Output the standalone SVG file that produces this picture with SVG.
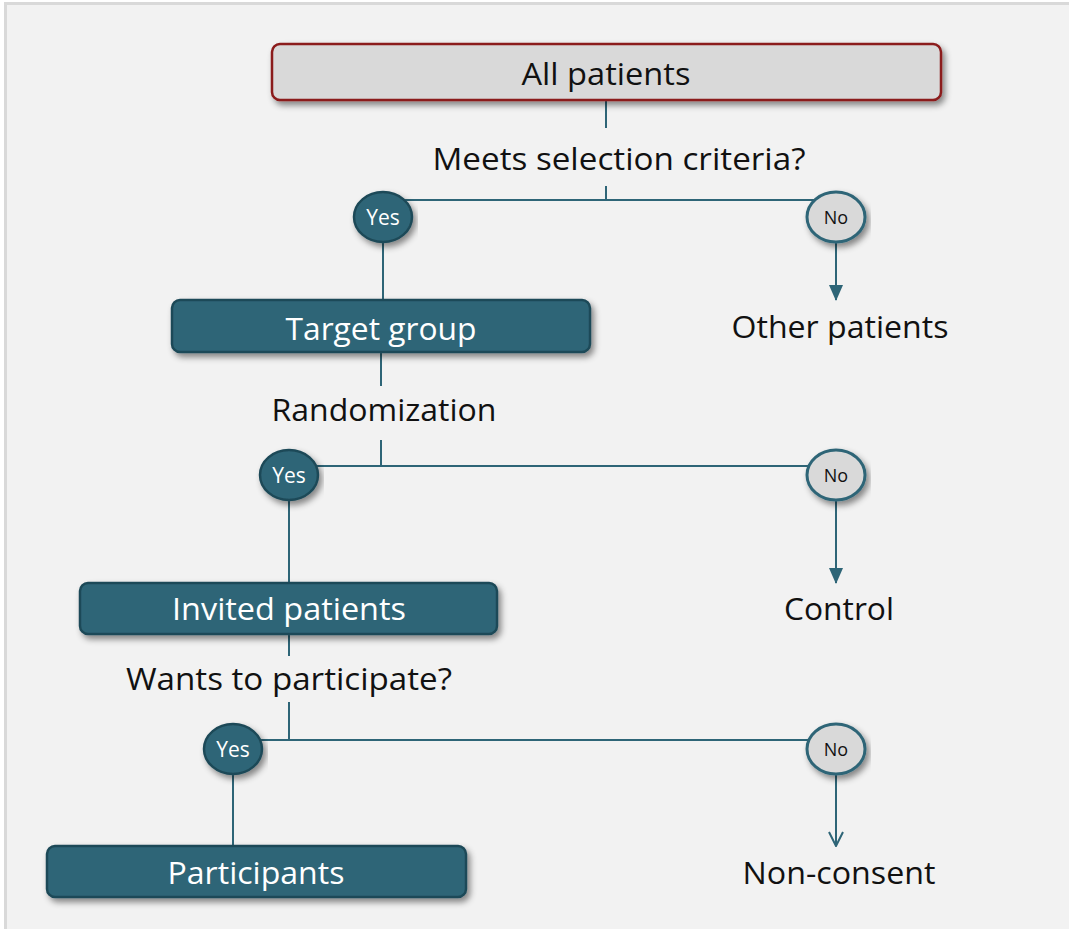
<svg xmlns="http://www.w3.org/2000/svg" width="1069" height="929" viewBox="0 0 1069 929">
  <defs>
    <filter id="shadow" x="-10%" y="-30%" width="120%" height="180%">
      <feDropShadow dx="3" dy="4" stdDeviation="3" flood-color="#000" flood-opacity="0.45"/>
    </filter>
    <marker id="arrowFilled" viewBox="0 0 16 14" refX="15" refY="7" markerWidth="16" markerHeight="14" markerUnits="userSpaceOnUse" orient="auto">
      <path d="M0,0 L16,7 L0,14 z" fill="#2e6577"/>
    </marker>
    <marker id="arrowOpen" viewBox="0 0 16 16" refX="15" refY="8" markerWidth="16" markerHeight="16" markerUnits="userSpaceOnUse" orient="auto">
      <path d="M1,1 L15,8 L1,15" fill="none" stroke="#2e6577" stroke-width="2"/>
    </marker>
  </defs>
  <style>
    .bg { fill: #f2f2f2; stroke: #d9d9d9; stroke-width: 3; }
    .start { fill: #d9d9d9; stroke: #8b1a1a; stroke-width: 2.5; }
    .box { fill: #2e6577; stroke: #1f4a58; stroke-width: 2.5; }
    .yes { fill: #2e6577; stroke: #1f4a58; stroke-width: 2.5; }
    .no { fill: #d9d9d9; stroke: #2e6577; stroke-width: 3; }
    .link { fill: none; stroke: #2e6577; stroke-width: 2; }
    text { font-family: "Open Sans", "Noto Sans", sans-serif; text-anchor: middle; }
    .lbl { font-size: 31px; fill: #111; }
    .boxlbl { font-size: 31px; fill: #fff; }
    .yeslbl { font-size: 21px; fill: #fff; }
    .nolbl { font-size: 18px; fill: #111; }
  </style>

  <rect x="0" y="0" width="1069" height="929" fill="#ffffff"/>
  <rect class="bg" x="5.5" y="3.5" width="1100" height="1000"/>

  <!-- connectors -->
  <g id="connectors">
    <line class="link" x1="606" y1="100" x2="606" y2="128"/>
    <line class="link" x1="606" y1="186" x2="606" y2="200"/>
    <line class="link" x1="383" y1="200" x2="836" y2="200"/>
    <line class="link" x1="383" y1="242" x2="383" y2="300"/>
    <line class="link" x1="836" y1="242" x2="836" y2="300" marker-end="url(#arrowFilled)"/>

    <line class="link" x1="381" y1="352" x2="381" y2="386"/>
    <line class="link" x1="381" y1="440" x2="381" y2="466"/>
    <line class="link" x1="289" y1="466" x2="836" y2="466"/>
    <line class="link" x1="289" y1="500" x2="289" y2="583"/>
    <line class="link" x1="836" y1="500" x2="836" y2="583" marker-end="url(#arrowFilled)"/>

    <line class="link" x1="289" y1="634" x2="289" y2="656"/>
    <line class="link" x1="289" y1="702" x2="289" y2="740"/>
    <line class="link" x1="233" y1="740" x2="836" y2="740"/>
    <line class="link" x1="233" y1="774" x2="233" y2="846"/>
    <line class="link" x1="836" y1="774" x2="836" y2="846" marker-end="url(#arrowOpen)"/>
  </g>

  <!-- decision labels -->
  <g id="label-selection">
    <text class="lbl" x="619" y="170" textLength="373" lengthAdjust="spacingAndGlyphs">Meets selection criteria?</text>
  </g>
  <g id="label-randomization">
    <text class="lbl" x="384" y="421" textLength="225" lengthAdjust="spacingAndGlyphs">Randomization</text>
  </g>
  <g id="label-participate">
    <text class="lbl" x="289" y="690" textLength="326" lengthAdjust="spacingAndGlyphs">Wants to participate?</text>
  </g>

  <!-- nodes -->
  <g id="all-patients">
    <rect class="start" x="272" y="44" width="669" height="56" rx="8" filter="url(#shadow)"/>
    <text class="lbl" x="606" y="85" textLength="169" lengthAdjust="spacingAndGlyphs">All patients</text>
  </g>

  <g id="yes-1">
    <ellipse class="yes" cx="383" cy="217" rx="29" ry="25" filter="url(#shadow)"/>
    <text class="yeslbl" x="383" y="225">Yes</text>
  </g>
  <g id="no-1">
    <ellipse class="no" cx="836" cy="217" rx="29" ry="25" filter="url(#shadow)"/>
    <text class="nolbl" x="836" y="224">No</text>
  </g>

  <g id="target-group">
    <rect class="box" x="172" y="300" width="418" height="52" rx="8" filter="url(#shadow)"/>
    <text class="boxlbl" x="381" y="340" textLength="191" lengthAdjust="spacingAndGlyphs">Target group</text>
  </g>
  <g id="other-patients">
    <text class="lbl" x="840" y="338" textLength="217" lengthAdjust="spacingAndGlyphs">Other patients</text>
  </g>

  <g id="yes-2">
    <ellipse class="yes" cx="289" cy="475" rx="29" ry="25" filter="url(#shadow)"/>
    <text class="yeslbl" x="289" y="483">Yes</text>
  </g>
  <g id="no-2">
    <ellipse class="no" cx="836" cy="475" rx="29" ry="25" filter="url(#shadow)"/>
    <text class="nolbl" x="836" y="482">No</text>
  </g>

  <g id="invited-patients">
    <rect class="box" x="80" y="583" width="417" height="51" rx="8" filter="url(#shadow)"/>
    <text class="boxlbl" x="289" y="620" textLength="234" lengthAdjust="spacingAndGlyphs">Invited patients</text>
  </g>
  <g id="control">
    <text class="lbl" x="839" y="620" textLength="110" lengthAdjust="spacingAndGlyphs">Control</text>
  </g>

  <g id="yes-3">
    <ellipse class="yes" cx="233" cy="749" rx="29" ry="25" filter="url(#shadow)"/>
    <text class="yeslbl" x="233" y="757">Yes</text>
  </g>
  <g id="no-3">
    <ellipse class="no" cx="836" cy="749" rx="29" ry="25" filter="url(#shadow)"/>
    <text class="nolbl" x="836" y="756">No</text>
  </g>

  <g id="participants">
    <rect class="box" x="47" y="846" width="419" height="51" rx="8" filter="url(#shadow)"/>
    <text class="boxlbl" x="256" y="884" textLength="177" lengthAdjust="spacingAndGlyphs">Participants</text>
  </g>
  <g id="non-consent">
    <text class="lbl" x="839" y="884" textLength="193" lengthAdjust="spacingAndGlyphs">Non-consent</text>
  </g>
</svg>
